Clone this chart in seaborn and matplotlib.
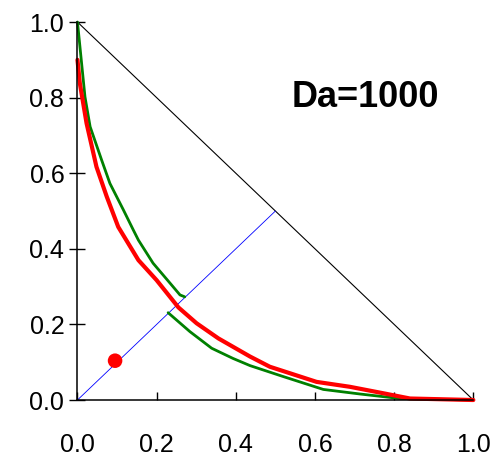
import matplotlib
matplotlib.use('Agg')
import matplotlib.pyplot as plt
import seaborn as sns
import pandas as pd

# reference lines
diag_x = [0.0, 1.0]
diag_y = [1.0, 0.0]
sym_x = [0.0, 0.5]
sym_y = [0.0, 0.5]

# green curve, upper branch
green_up_x = [0.0, 0.019, 0.032, 0.061, 0.082, 0.116, 0.141, 0.154, 0.191, 0.234, 0.259, 0.271]
green_up_y = [1.0, 0.802, 0.723, 0.635, 0.573, 0.503, 0.450, 0.423, 0.362, 0.309, 0.278, 0.273]
# green curve, lower branch
green_lo_x = [0.229, 0.284, 0.339, 0.393, 0.436, 0.520, 0.621, 0.713, 0.814, 1.0]
green_lo_y = [0.231, 0.181, 0.137, 0.110, 0.091, 0.062, 0.028, 0.016, 0.004, 0.0]

# red curve
red_x = [0.0, 0.006, 0.023, 0.048, 0.074, 0.103, 0.154, 0.200, 0.255, 0.301,
         0.356, 0.436, 0.486, 0.604, 0.688, 0.772, 0.840, 1.0]
red_y = [0.900, 0.838, 0.732, 0.617, 0.538, 0.458, 0.370, 0.317, 0.245, 0.203,
         0.163, 0.115, 0.088, 0.048, 0.035, 0.018, 0.004, 0.0]

# single point
dot_x = [0.095]
dot_y = [0.104]

label = 'Da=1000'
ticks = [0.0, 0.2, 0.4, 0.6, 0.8, 1.0]

sns.set_style('white')
plt.rcParams['font.family'] = ['Liberation Sans', 'DejaVu Sans']
plt.rcParams['text.color'] = 'black'
plt.rcParams['xtick.color'] = 'black'
plt.rcParams['ytick.color'] = 'black'

fig = plt.figure(figsize=(5.03, 4.58), dpi=100)
ax = fig.add_axes([0.154, 0.1266, 0.787, 0.8253])

def draw(x, y, color, lw):
    df = pd.DataFrame({'x': x, 'y': y})
    sns.lineplot(data=df, x='x', y='y', color=color, linewidth=lw, sort=False,
                 estimator=None, ax=ax, clip_on=False)

draw(diag_x, diag_y, 'black', 0.8)
draw(sym_x, sym_y, '#0000ff', 0.6)
draw(green_up_x, green_up_y, '#008000', 2.0)
draw(green_lo_x, green_lo_y, '#008000', 2.0)
draw(red_x, red_y, '#ff0000', 3.0)
sns.scatterplot(x=dot_x, y=dot_y, color='#ff0000', s=110, edgecolor='none', ax=ax, zorder=5)

ax.text(0.54, 0.8, label, fontsize=26, fontweight='bold', va='center', ha='left',
        color='black')

ax.set_xlim(0, 1)
ax.set_ylim(0, 1)
ax.set_xticks(ticks)
ax.set_yticks(ticks)
ax.set_xticklabels([f'{t:.1f}' for t in ticks])
ax.set_yticklabels([f'{t:.1f}' for t in ticks])
ax.set_xlabel('')
ax.set_ylabel('')
sns.despine(ax=ax)
for s in ['left', 'bottom']:
    ax.spines[s].set_color('black')
    ax.spines[s].set_linewidth(1.1)
ax.tick_params(axis='x', direction='in', length=6, width=1, color='black',
               labelcolor='black', labelsize=18, pad=24, bottom=True)
ax.tick_params(axis='y', direction='inout', length=11, width=1, color='black',
               labelcolor='black', labelsize=18, pad=4, left=True)

fig.savefig('out.png', dpi=100)
